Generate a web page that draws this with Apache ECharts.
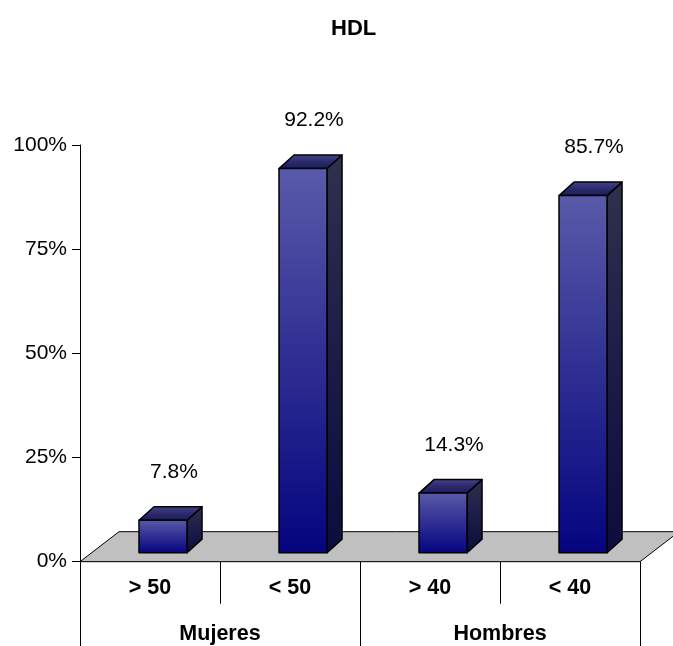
<!DOCTYPE html>
<html>
<head>
<meta charset="utf-8">
<title>HDL</title>
<script src="https://cdn.jsdelivr.net/npm/echarts@6/dist/echarts.min.js"></script>
<style>
  html, body { margin: 0; padding: 0; background: #ffffff; }
  #chart { width: 673px; height: 646px; }
</style>
</head>
<body>
<div id="chart"></div>
<script>
// Chart data
const chartTitle = 'HDL';
const categories = ['> 50', '< 50', '> 40', '< 40'];
const groups = ['Mujeres', 'Hombres'];
const hdlPercent = [7.8, 92.2, 14.3, 85.7];
const yTicks = [0, 25, 50, 75, 100];

// Look of the pseudo-3D columns
const FONT = "'Liberation Sans', Arial, Helvetica, sans-serif";
const DEPTH_X = 15;      // horizontal depth of a column
const DEPTH_Y = 13.5;    // vertical depth of a column
const LIFT = 9;          // columns stand a little behind the floor's front edge
const SHIFT_RATIO = 0.093;
const WIDTH_RATIO = 0.343;
const FLOOR_DX = 39, FLOOR_DY = 30;

const grad = (stops) => new echarts.graphic.LinearGradient(0, 0, 0, 1,
  stops.map((c, i) => ({ offset: i / (stops.length - 1), color: c })));

function renderColumn(params, api) {
  const idx = api.value(0);
  const val = api.value(1);
  const band = api.size([1, 0])[0];
  const topPt = api.coord([idx, val]);
  const basePt = api.coord([idx, 0]);
  const w = band * WIDTH_RATIO;
  const cx = topPt[0] + band * SHIFT_RATIO;
  const x0 = cx - w / 2, x1 = cx + w / 2;
  const yT = topPt[1] - LIFT, yB = basePt[1] - LIFT;
  const stroke = { stroke: '#000000', lineWidth: 1.5, lineJoin: 'round' };
  return {
    type: 'group',
    children: [
      {
        type: 'polygon',
        shape: { points: [[x1, yT], [x1 + DEPTH_X, yT - DEPTH_Y], [x1 + DEPTH_X, yB - DEPTH_Y], [x1, yB]] },
        style: Object.assign({ fill: grad(['#30304e', '#1c1c48', '#0c0c3e']) }, stroke)
      },
      {
        type: 'polygon',
        shape: { points: [[x0, yT], [x1, yT], [x1 + DEPTH_X, yT - DEPTH_Y], [x0 + DEPTH_X, yT - DEPTH_Y]] },
        style: Object.assign({ fill: grad(['#45458a', '#2a2a6c', '#1a1a5c']) }, stroke)
      },
      {
        type: 'rect',
        shape: { x: x0, y: yT, width: w, height: yB - yT },
        style: Object.assign({ fill: grad(['#5a5aaa', '#2e2e92', '#040480']) }, stroke)
      },
      {
        type: 'text',
        style: {
          x: cx + 11, y: yT - 48,
          text: val.toFixed(1) + '%',
          align: 'center', verticalAlign: 'middle',
          fontFamily: FONT, fontSize: 21, fill: '#000000'
        }
      }
    ]
  };
}

function renderFloor(params, api) {
  const cs = params.coordSys;
  const yb = cs.y + cs.height;
  return {
    type: 'polygon',
    shape: { points: [[cs.x, yb], [cs.x + cs.width, yb], [cs.x + cs.width + FLOOR_DX, yb - FLOOR_DY], [cs.x + FLOOR_DX, yb - FLOOR_DY]] },
    style: { fill: '#c0c0c0', stroke: '#000000', lineWidth: 1 }
  };
}

const chart = echarts.init(document.getElementById('chart'), null, { renderer: 'canvas' });

chart.setOption({
  animation: false,
  backgroundColor: '#ffffff',
  title: {
    text: chartTitle,
    left: 326,
    top: 13,
    textStyle: { fontFamily: FONT, fontSize: 22, fontWeight: 'bold', color: '#000000' }
  },
  grid: { left: 80, right: 33, top: 145, bottom: 84.3 },
  xAxis: [
    {
      type: 'category',
      data: categories,
      boundaryGap: true,
      axisLine: { show: true, lineStyle: { color: '#000000', width: 1 } },
      axisTick: { show: true, interval: 0, length: 42, lineStyle: { color: '#000000', width: 1 } },
      axisLabel: {
        interval: 0, margin: 26, verticalAlign: 'middle',
        fontFamily: FONT, fontSize: 21.5, fontWeight: 'bold', color: '#000000'
      },
      splitLine: { show: false }
    },
    {
      type: 'category',
      data: groups,
      position: 'bottom',
      boundaryGap: true,
      axisLine: { show: false },
      axisTick: { show: true, interval: 0, length: 90, lineStyle: { color: '#000000', width: 1 } },
      axisLabel: {
        interval: 0, margin: 72, verticalAlign: 'middle',
        fontFamily: FONT, fontSize: 21.5, fontWeight: 'bold', color: '#000000'
      },
      splitLine: { show: false }
    }
  ],
  yAxis: {
    type: 'value',
    min: yTicks[0],
    max: yTicks[yTicks.length - 1],
    interval: yTicks[1] - yTicks[0],
    axisLine: { show: true, lineStyle: { color: '#000000', width: 1 } },
    axisTick: { show: true, length: 8, lineStyle: { color: '#000000', width: 1 } },
    axisLabel: {
      margin: 13,
      formatter: '{value}%',
      fontFamily: FONT, fontSize: 21, color: '#000000'
    },
    splitLine: { show: false }
  },
  series: [
    {
      type: 'custom',
      name: 'floor',
      silent: true,
      z: 1,
      renderItem: renderFloor,
      data: [[0, 0]]
    },
    {
      type: 'custom',
      name: 'HDL',
      silent: true,
      z: 3,
      renderItem: renderColumn,
      encode: { x: 0, y: 1 },
      data: hdlPercent.map((v, i) => [i, v])
    }
  ]
});
</script>
</body>
</html>
